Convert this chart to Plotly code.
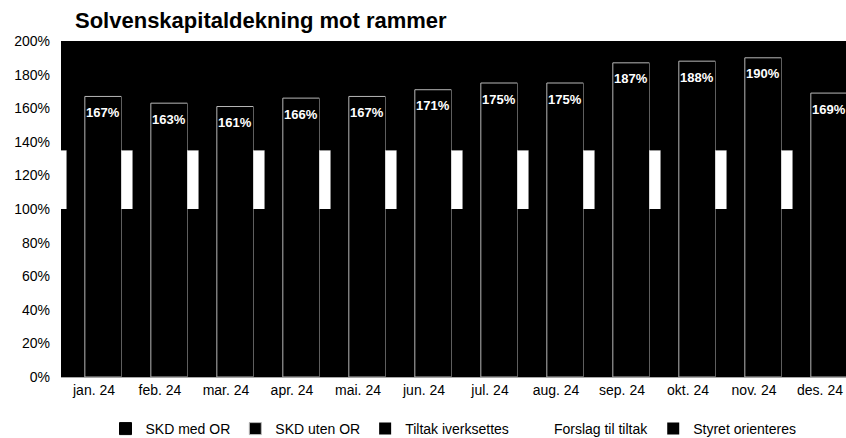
import plotly.graph_objects as go

months = ["jan. 24", "feb. 24", "mar. 24", "apr. 24", "mai. 24", "jun. 24",
          "jul. 24", "aug. 24", "sep. 24", "okt. 24", "nov. 24", "des. 24"]
skd_uten_or = [167, 163, 161, 166, 167, 171, 175, 175, 187, 188, 190, 169]
skd_med_or = [167, 163, 161, 166, 167, 171, 175, 175, 187, 188, 190, 169]
tiltak_iverksettes = [100] * 12
forslag_til_tiltak = [35] * 12
styret_orienteres = [65] * 12
y_ticks = [0, 20, 40, 60, 80, 100, 120, 140, 160, 180, 200]

FONT = "Liberation Sans, Arial, sans-serif"
idx = list(range(len(months)))
bounds = [i - 0.5 for i in idx]

fig = go.Figure()

base2 = tiltak_iverksettes
base3 = [a + b for a, b in zip(tiltak_iverksettes, forslag_til_tiltak)]

fig.add_trace(go.Bar(name="SKD med OR", x=idx, y=skd_med_or, offset=-0.42, width=0.281,
                     marker=dict(color="black", line=dict(color="black", width=1))))
fig.add_trace(go.Bar(name="SKD uten OR", x=idx, y=skd_uten_or, offset=-0.139, width=0.556,
                     marker=dict(color="black", line=dict(color="#b8b8b8", width=1))))
fig.add_trace(go.Bar(name="Tiltak iverksettes", x=bounds, y=tiltak_iverksettes, offset=-0.083, width=0.167,
                     marker=dict(color="black", line=dict(width=0))))
fig.add_trace(go.Bar(name="Forslag til tiltak", x=bounds, y=forslag_til_tiltak, base=base2,
                     offset=-0.083, width=0.167,
                     marker=dict(color="white", line=dict(width=0))))
fig.add_trace(go.Bar(name="Styret orienteres", x=bounds, y=styret_orienteres, base=base3,
                     offset=-0.083, width=0.167,
                     marker=dict(color="black", line=dict(width=0))))

for i, v in zip(idx, skd_uten_or):
    fig.add_annotation(x=i + 0.139, y=v, text=f"{v}%", showarrow=False, yshift=-16,
                       xanchor="center", yanchor="middle",
                       font=dict(family=FONT, size=13, color="white", weight="bold"))

fig.update_layout(
    width=846, height=438,
    barmode="overlay",
    paper_bgcolor="white", plot_bgcolor="black",
    margin=dict(l=61, r=0, t=41, b=61),
    title=dict(text="<b>Solvenskapitaldekning mot rammer</b>", xref="container", x=75 / 846,
               xanchor="left", yref="container", y=1 - 20 / 438, yanchor="middle",
               font=dict(family=FONT, size=22, color="black")),
    showlegend=True,
    legend=dict(orientation="h", x=0.5, xanchor="center",
                yref="container", y=1 - 429 / 438, yanchor="middle",
                font=dict(family=FONT, size=14, color="black"), traceorder="normal",
                bgcolor="rgba(0,0,0,0)"),
    font=dict(family=FONT, size=14, color="black"),
)
fig.update_xaxes(range=[-0.5, 11.394], tickvals=idx, ticktext=months, showgrid=False,
                 zeroline=False, showline=True, linecolor="#a8a8a8", linewidth=1, ticks="",
                 tickfont=dict(family=FONT, size=14, color="black"))
fig.update_yaxes(range=[0, 200], tickvals=y_ticks, ticktext=[f"{t}%" for t in y_ticks],
                 showgrid=False, zeroline=False, showline=False, ticks="",
                 ticklabelstandoff=10,
                 tickfont=dict(family=FONT, size=14, color="black"))

fig.write_html("out.html", config={"displayModeBar": False},
               post_script="document.body.style.margin='0px';")
